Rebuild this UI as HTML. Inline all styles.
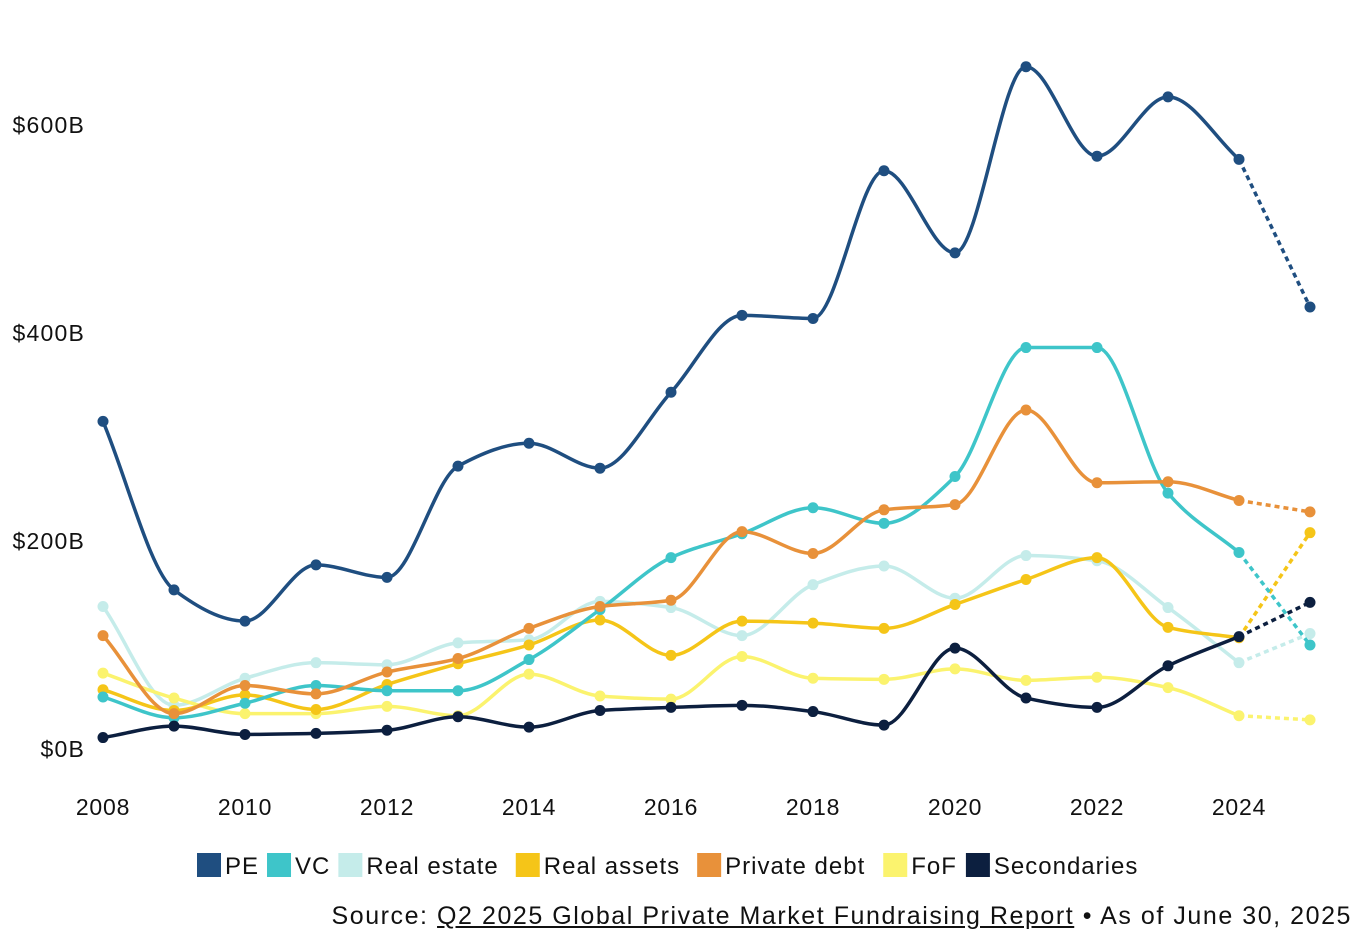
<!DOCTYPE html>
<html><head><meta charset="utf-8"><style>
body{margin:0;background:#fff;}
svg{display:block;font-family:"Liberation Sans",sans-serif;}
</style></head><body>
<svg id="chart" width="1361" height="941"></svg>
<script>
const years=[2008,2009,2010,2011,2012,2013,2014,2015,2016,2017,2018,2019,2020,2021,2022,2023,2024,2025];
const pe=[315,153,123,177,165,272,294,270,343,417,414,556,477,656,570,627,567,425];
const vc=[50,30,44,61,56,56,86,134,184,207,232,217,262,386,386,246,189,100];
const realEstate=[137,42,68,83,81,102,105,142,136,109,158,176,145,186,181,136,83,111];
const realAssets=[57,37,52,38,62,82,100,124,90,123,121,116,139,163,184,117,107,208];
const privateDebt=[109,34,61,53,74,87,116,137,143,209,188,230,235,326,256,257,239,228];
const fof=[73,49,34,34,41,32,72,51,48,89,68,67,77,66,69,59,32,28];
const secondaries=[11,22,14,15,18,31,21,37,40,42,36,23,97,49,40,80,108,141];
const yTicks=[0,200,400,600];
const yTickLabels=["$0B","$200B","$400B","$600B"];
const xTicks=[2008,2010,2012,2014,2016,2018,2020,2022,2024];
const seriesNames=["PE","VC","Real estate","Real assets","Private debt","FoF","Secondaries"];
const colors=["#1f4e80","#3ec5c9","#c5ecea","#f5c518","#e8913a","#fbf36e","#0c1f3f"];
const seriesData=[pe,vc,realEstate,realAssets,privateDebt,fof,secondaries];
const NS="http://www.w3.org/2000/svg";
const svg=document.getElementById('chart');
const x=v=>103+(v-2008)*71;
const y=v=>749-v*1.04;
function mk(tag,attrs,parent){const e=document.createElementNS(NS,tag);for(const k in attrs)e.setAttribute(k,attrs[k]);(parent||svg).appendChild(e);return e;}
yTicks.forEach((t,i)=>{const e=mk('text',{x:85,y:y(t)+8,'text-anchor':'end','font-size':23,'letter-spacing':'1.2',fill:'#111'});e.textContent=yTickLabels[i];

});
xTicks.forEach(t=>{const e=mk('text',{x:x(t),y:815,'text-anchor':'middle','font-size':23,'letter-spacing':'0.8',fill:'#111'});e.textContent=t;

});
function pathFor(vals,n){const p=vals.slice(0,n).map((v,i)=>[x(years[i]),y(v)]);const m=p.length;
const d0=[],t=[];for(let i=0;i<m-1;i++)d0.push((p[i+1][1]-p[i][1])/(p[i+1][0]-p[i][0]));
for(let i=0;i<m;i++){if(i==0)t.push(d0[0]);else if(i==m-1)t.push(d0[m-2]);else{const a=d0[i-1],b=d0[i];t.push(a*b<=0?0:2/(1/a+1/b));}}
let d=`M${p[0][0]},${p[0][1]}`;
for(let i=0;i<m-1;i++){const h=(p[i+1][0]-p[i][0])/3;
d+=` C${p[i][0]+h},${p[i][1]+t[i]*h} ${p[i+1][0]-h},${p[i+1][1]-t[i+1]*h} ${p[i+1][0]},${p[i+1][1]}`;}return d;}
const order=[2,5,3,1,4,0,6];
order.forEach(si=>{const vals=seriesData[si],c=colors[si],n=vals.length;
const g=mk('g',{});


mk('path',{d:pathFor(vals,n-1),fill:'none',stroke:c,'stroke-width':3.5},g);
mk('line',{x1:x(years[n-2]),y1:y(vals[n-2]),x2:x(years[n-1]),y2:y(vals[n-1]),stroke:c,'stroke-width':3.5,'stroke-dasharray':'5,4'},g);
vals.forEach((v,i)=>{const dot=mk('circle',{cx:x(years[i]),cy:y(v),r:5.5,fill:c},g);

});});
const lg=mk('g',{});


let lx=197;
seriesNames.forEach((nm,i)=>{const it=mk('g',{},lg);


mk('rect',{x:lx,y:853,width:24,height:24,fill:colors[i]},it);
const t=mk('text',{x:lx+28,y:874,'font-size':24,'letter-spacing':'1','font-family':'Liberation Sans, sans-serif',fill:'#111'},it);t.textContent=nm;
lx+=28+t.getComputedTextLength()+nm.length+6;});
</script>
<div style="position:absolute;right:9px;top:902px;font:25px 'Liberation Sans',sans-serif;letter-spacing:1.55px;color:#111;white-space:nowrap;">Source: <u>Q2 2025 Global Private Market Fundraising Report</u> • As of June 30, 2025</div>
</body></html>
